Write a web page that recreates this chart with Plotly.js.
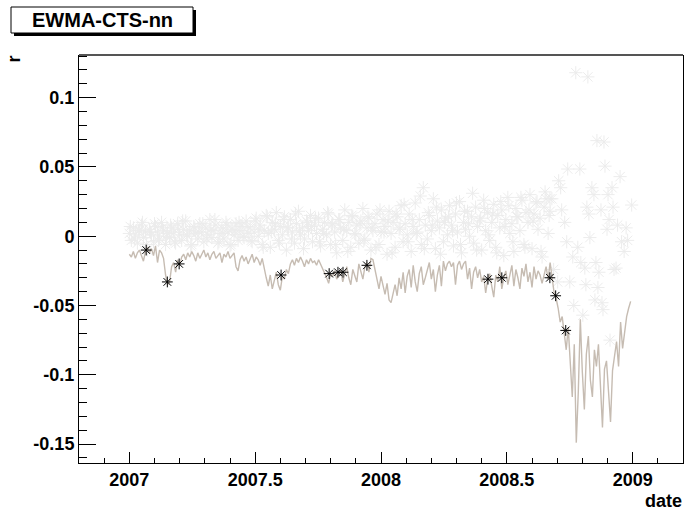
<!DOCTYPE html>
<html>
<head>
<meta charset="utf-8">
<script src="https://cdn.plot.ly/plotly-3.0.1.min.js"></script>
<style>html,body{margin:0;padding:0;background:#fff;}#chart{width:684px;height:510px;}</style>
</head>
<body>
<div id="chart"></div>
<script>
// ---- data (decimal years, r values) ----
const gridX0 = 2007.0;      // first sample of the daily grid
const gridStep = 0.008;     // sampling step of the series (years)

// EWMA threshold line, one value per grid sample
const lineY = [
 -0.013,-0.015,-0.011,-0.016,-0.012,-0.010,-0.014,-0.018,
 -0.011,-0.008,-0.012,
 -0.009,-0.014,-0.007,-0.019,-0.010,-0.012,-0.016,
 -0.028,-0.035,-0.033,
 -0.022,-0.019,-0.026,
 -0.017,-0.021,-0.015,
 -0.013,-0.017,-0.012,-0.015,-0.011,-0.014,-0.018,-0.012,-0.016,-0.013,-0.010,-0.015,-0.012,-0.017,-0.013,-0.011,-0.016,-0.014,-0.012,-0.019,-0.013,-0.015,-0.011,-0.016,-0.014,-0.012,
 -0.022,-0.025,-0.017,
 -0.014,-0.018,-0.015,-0.020,-0.016,-0.013,-0.019,-0.015,-0.017,-0.021,-0.016,
 -0.024,-0.030,-0.036,-0.028,-0.038,-0.032,-0.026,-0.035,-0.039,-0.029,-0.031,-0.024,-0.027,-0.020,
 -0.017,-0.021,-0.016,-0.019,-0.015,-0.018,-0.022,-0.017,-0.020,-0.016,-0.019,-0.018,-0.021,-0.017,-0.020,-0.023,
 -0.026,-0.030,-0.034,-0.027,-0.029,-0.025,-0.031,-0.028,-0.024,-0.033,-0.027,-0.022,
 -0.030,-0.035,-0.024,-0.028,-0.033,-0.020,-0.025,-0.031,-0.022,-0.019,-0.026,-0.016,
 -0.017,-0.024,-0.032,-0.038,-0.029,-0.036,-0.042,-0.034,-0.046,-0.048,-0.040,-0.035,-0.043,-0.030,-0.038,
 -0.026,-0.041,-0.029,-0.024,-0.037,-0.021,-0.033,-0.040,-0.027,-0.022,-0.035,-0.030,-0.025,-0.019,-0.031,
 -0.024,-0.040,-0.028,-0.021,-0.036,-0.018,-0.025,-0.020,-0.018,-0.022,-0.019,-0.035,-0.021,-0.018,-0.024,
 -0.020,-0.018,-0.031,-0.023,-0.038,-0.026,-0.022,-0.030,-0.024,-0.033,
 -0.029,-0.041,-0.031,-0.027,-0.036,-0.044,-0.028,-0.033,-0.022,-0.038,-0.030,-0.025,-0.035,
 -0.027,-0.021,-0.036,-0.024,-0.030,-0.038,-0.023,-0.029,-0.020,-0.033,-0.026,-0.037,-0.022,-0.031,-0.025,-0.028,-0.034,
 -0.027,-0.022,-0.031,-0.019,-0.030,-0.041,
 -0.045,-0.052,-0.062,-0.058,-0.070,-0.082,-0.066,-0.088,-0.116,
 -0.078,-0.149,-0.112,-0.060,-0.098,-0.125,-0.085,-0.072,-0.104,-0.116,-0.082,-0.094,-0.078,-0.108,-0.138,-0.096,-0.090,-0.112,-0.134,-0.097,-0.088,-0.076,-0.094,-0.062,-0.081,-0.070,-0.058,-0.052,-0.047
];

// daily returns (light grey stars) on the same grid, 2007.0 .. 2008.672
const grayGridY = [
 0.002,-0.003,0.006,0.001,-0.005,0.004,0.008,-0.001,0.003,-0.010,
 0.005,0.001,-0.004,0.007,0.003,-0.002,0.010,0.004,-0.006,0.002,
 -0.001,0.006,0.003,-0.005,0.009,0.001,-0.003,0.005,0.011,0.000,
 0.004,-0.006,0.007,0.002,-0.002,0.009,0.003,-0.004,0.006,0.001,
 0.012,-0.001,0.004,0.008,-0.005,0.002,0.006,-0.002,0.010,0.003,
 -0.007,0.005,0.001,0.009,-0.003,0.004,0.007,-0.001,0.011,0.002,
 0.006,-0.004,0.003,0.013,0.000,0.008,-0.006,0.004,0.015,0.002,
 -0.008,0.010,0.005,0.017,-0.003,0.007,0.001,0.014,-0.010,0.006,
 0.012,0.003,-0.005,0.009,0.018,0.001,0.006,-0.002,0.011,0.004,
 0.015,-0.004,0.008,0.002,0.013,-0.007,0.005,0.010,0.001,0.016,
 -0.006,0.009,0.003,-0.012,0.012,0.006,-0.003,0.019,0.004,0.010,
 -0.008,0.014,0.002,0.008,-0.005,0.011,0.020,-0.002,0.006,0.013,
 -0.010,0.004,0.009,0.016,-0.006,0.003,0.012,0.007,-0.013,0.018,
 0.002,0.010,-0.008,0.014,0.005,0.022,-0.004,0.009,0.001,0.016,
 -0.011,0.007,0.024,0.003,0.012,-0.006,0.035,0.008,-0.002,0.015,
 0.004,0.027,-0.009,0.011,0.006,0.019,-0.004,0.013,0.001,0.022,
 0.008,-0.007,0.016,0.003,0.025,-0.012,0.010,0.005,0.018,0.000,
 0.014,-0.005,0.021,0.007,0.011,-0.010,0.026,0.004,0.017,-0.003,
 0.010,0.023,-0.008,0.015,0.006,0.019,-0.014,0.012,0.028,0.002,
 0.009,-0.011,0.020,0.014,0.004,0.026,-0.006,0.017,0.010,0.030,
 -0.009,0.016,0.024,0.005,0.013,-0.015,0.021,0.027,0.002,0.018
];

// further daily returns between grid samples (every other gap), 2007.004 .. 2008.668
const grayMidX0 = 2007.004;
const grayMidStep = 0.016;
const grayMidY = [
 0.007,-0.002,0.004,0.010,-0.006,0.003,0.009,-0.003,0.006,0.000,
 0.008,-0.004,0.005,0.011,0.001,-0.007,0.006,0.003,0.009,-0.002,
 0.005,0.012,-0.004,0.002,0.008,-0.006,0.004,0.010,0.000,0.007,
 -0.003,0.011,0.005,-0.008,0.014,0.003,0.009,-0.005,0.012,0.006,
 -0.002,0.016,0.004,-0.009,0.010,0.007,0.013,-0.004,0.002,0.017,
 0.008,-0.006,0.012,0.005,-0.011,0.015,0.001,0.009,-0.003,0.014,
 0.006,-0.008,0.019,0.003,0.011,-0.012,0.016,0.006,0.023,-0.004,
 0.012,0.002,0.029,-0.009,0.017,0.008,0.021,-0.013,0.010,0.014,
 0.004,0.024,-0.006,0.018,0.009,0.031,-0.010,0.013,0.020,0.001,
 0.016,-0.012,0.025,0.007,0.022,-0.004,0.014,0.028,-0.008,0.019,
 0.011,0.025,-0.011,0.032,0.015
];

// late-2008 daily returns (light grey stars)
const grayLateX = [2008.671,2008.679,2008.686,2008.702,2008.706,2008.714,2008.718,2008.730,2008.738,2008.742,
 2008.750,2008.762,2008.766,2008.774,2008.782,2008.790,2008.794,2008.802,2008.810,2008.814,
 2008.818,2008.822,2008.826,2008.830,2008.838,2008.846,2008.850,2008.854,2008.858,2008.862,
 2008.866,2008.874,2008.878,2008.882,2008.886,2008.890,2008.898,2008.902,2008.906,2008.910,
 2008.918,2008.922,2008.926,2008.934,2008.940,2008.950,2008.956,2008.966,2008.974,2008.980,2008.996];
const grayLateY = [0.027,0.027,-0.024,-0.033,0.040,0.035,0.019,0.010,-0.004,0.0485,
 -0.033,-0.015,-0.050,0.118,-0.008,0.0485,-0.019,-0.057,-0.023,-0.035,
 0.021,0.115,0.016,-0.001,0.035,0.030,-0.046,-0.019,0.069,-0.037,
 -0.026,0.019,-0.048,-0.053,0.068,0.0506,0.005,0.030,0.012,-0.075,
 0.035,0.021,-0.024,-0.023,0.008,0.043,-0.004,-0.011,0.006,-0.003,0.0225];

// flagged returns (black stars)
const flagX = [2007.067,2007.151,2007.198,2007.603,2007.794,2007.829,2007.849,2007.944,2008.425,2008.480,2008.671,2008.694,2008.734];
const flagY = [-0.010,-0.033,-0.020,-0.028,-0.027,-0.026,-0.026,-0.021,-0.031,-0.030,-0.030,-0.043,-0.068];

const xTickVals = [2007,2007.5,2008,2008.5,2009];
const xTickText = ['2007','2007.5','2008','2008.5','2009'];
const yTickVals = [-0.15,-0.1,-0.05,0,0.05,0.1];
const yTickText = ['-0.15','-0.1','-0.05','0','0.05','0.1'];

// ---- build ----
const gridXs = lineY.map((_, i) => gridX0 + i * gridStep);
const grayX = grayGridY.map((_, i) => gridX0 + i * gridStep)
  .concat(grayMidY.map((_, i) => grayMidX0 + i * grayMidStep))
  .concat(grayLateX);
const grayY = grayGridY.concat(grayMidY).concat(grayLateY);

const L = 79, R = 1, T = 55, B = 47, W = 684, H = 510;
const pw = W - L - R, ph = H - T - B;
const px = x => (x - L) / pw;
const py = y => (H - B - y) / ph;

const font = {family: 'Liberation Sans, Arial, Helvetica, sans-serif', size: 18, color: '#000', weight: 700};

const traces = [
  {x: grayX, y: grayY, type: 'scatter', mode: 'markers', hoverinfo: 'skip',
   marker: {symbol: 'asterisk-open', size: 11, color: '#ececec', line: {color: '#ececec', width: 1}}},
  {x: gridXs, y: lineY, type: 'scatter', mode: 'lines', hoverinfo: 'skip',
   line: {color: '#c6bcb2', width: 1.4}},
  {x: flagX, y: flagY, type: 'scatter', mode: 'markers', hoverinfo: 'skip',
   marker: {symbol: 'asterisk-open', size: 9, color: '#000', line: {color: '#000', width: 1}}}
];

const layout = {
  width: W, height: H,
  margin: {l: L, r: R, t: T, b: B, pad: 0},
  paper_bgcolor: '#fff', plot_bgcolor: '#fff',
  showlegend: false,
  font: font,
  xaxis: {
    range: [2006.8, 2009.2], showgrid: false, zeroline: false,
    showline: true, linecolor: '#000', linewidth: 1,
    tickmode: 'array', tickvals: xTickVals, ticktext: xTickText,
    ticks: 'inside', ticklen: 11, tickwidth: 1, tickcolor: '#000',
    tickfont: font,
    minor: {tickmode: 'linear', tick0: 2007, dtick: 0.1, ticks: 'inside', ticklen: 5, tickwidth: 1, tickcolor: '#000', showgrid: false}
  },
  yaxis: {
    range: [-0.1637, 0.1308], showgrid: false, zeroline: false,
    showline: true, mirror: true, linecolor: '#000', linewidth: 1,
    tickmode: 'array', tickvals: yTickVals, ticktext: yTickText,
    ticks: 'inside', ticklen: 17, tickwidth: 1, tickcolor: '#000',
    tickfont: font,
    minor: {tickmode: 'linear', tick0: 0, dtick: 0.01, ticks: 'inside', ticklen: 8, tickwidth: 1, tickcolor: '#000', showgrid: false}
  },
  shapes: [
    {type: 'line', xref: 'paper', yref: 'paper', x0: 0, x1: 1, y0: 1, y1: 1, line: {color: '#555', width: 2}},
    {type: 'rect', xref: 'paper', yref: 'paper', x0: px(14), x1: px(196), y0: py(36), y1: py(10), fillcolor: '#000', line: {width: 0}},
    {type: 'rect', xref: 'paper', yref: 'paper', x0: px(11), x1: px(193), y0: py(33), y1: py(7), fillcolor: '#fff', line: {color: '#000', width: 1}}
  ],
  annotations: [
    {text: 'EWMA-CTS-nn', xref: 'paper', yref: 'paper', x: px(102), y: py(20), xanchor: 'center', yanchor: 'middle', showarrow: false,
     font: {family: font.family, size: 20, color: '#000', weight: 700}},
    {text: 'date', xref: 'paper', yref: 'paper', x: px(684), y: py(501), xanchor: 'right', yanchor: 'middle', showarrow: false, font: font},
    {text: 'r', xref: 'paper', yref: 'paper', x: px(13.5), y: py(59), xanchor: 'center', yanchor: 'middle', textangle: -90, showarrow: false, font: font}
  ]
};

Plotly.newPlot('chart', traces, layout, {staticPlot: true, displayModeBar: false});
</script>
</body>
</html>
